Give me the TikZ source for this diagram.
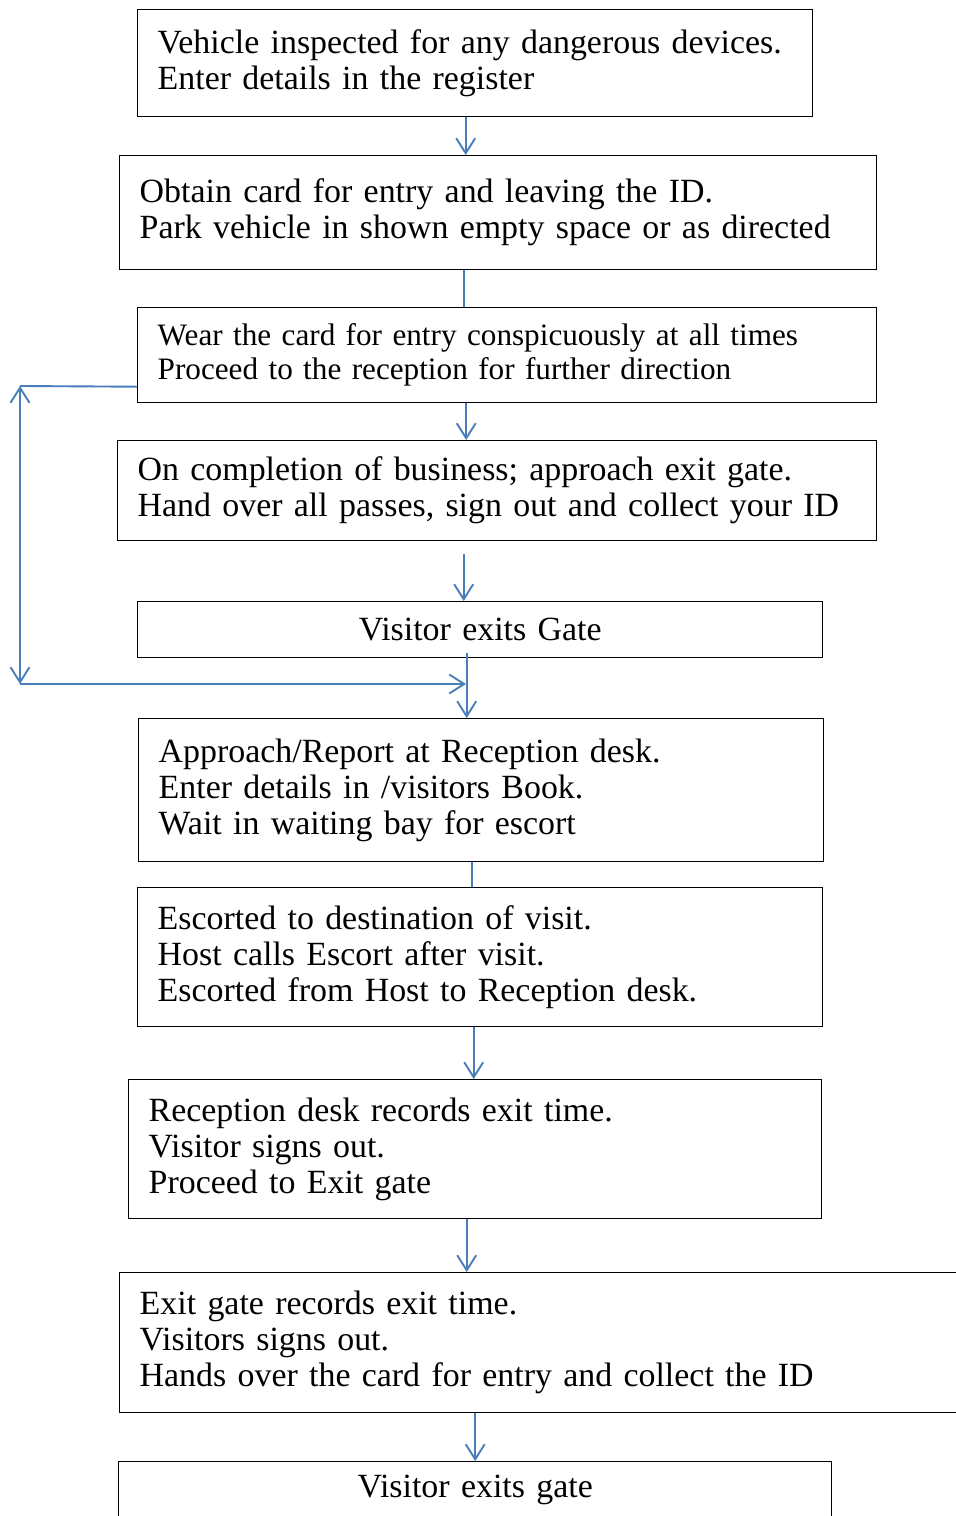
\documentclass[tikz,border=0pt]{standalone}
\usepackage{fontspec}
\setmainfont{Liberation Serif}
\definecolor{FlowBlue}{RGB}{74, 126, 187}
\usetikzlibrary{arrows.meta, positioning}

\begin{document}
\begin{tikzpicture}[x=0.5pt, y=-0.5pt,
    stepbox/.style={draw, line width=0.7pt, anchor=north west, align=left, inner xsep=10pt, inner ysep=0pt, font=\fontsize{16.95}{18}\selectfont},
    flow/.style={draw=FlowBlue, line width=0.95pt},
    flowarrow/.style={flow, -{Straight Barb[length=7.5pt, width=9.5pt]}}]
  \useasboundingbox (0,0) rectangle (955,1516);

  % the boxes, top to bottom
  \node[stepbox, text width=317.5pt, minimum height=53.5pt] (inspect) at (137,9)
    {Vehicle inspected for any dangerous devices.\\ Enter details in the register};
  \node[stepbox, text width=358.5pt, minimum height=57pt] (card) at (119,155)
    {Obtain card for entry and leaving the ID.\\ Park vehicle in shown empty space or as directed};
  \node[stepbox, text width=349.5pt, minimum height=47.5pt, font=\fontsize{15.6}{17}\selectfont] (wear) at (137,307)
    {Wear the card for entry conspicuously at all times\\ Proceed to the reception for further direction};
  \node[stepbox, text width=359.5pt, minimum height=50pt] (business) at (117,440)
    {On completion of business; approach exit gate.\\ Hand over all passes, sign out and collect your ID};
  \node[stepbox, align=center, text width=322.5pt, minimum height=28pt] (exitone) at (137,601)
    {Visitor exits Gate};
  \node[stepbox, text width=322.5pt, minimum height=71.5pt] (reception) at (138,718)
    {Approach/Report at Reception desk.\\ Enter details in /visitors Book.\\ Wait in waiting bay for escort};
  \node[stepbox, text width=322.5pt, minimum height=69.5pt] (escort) at (137,887)
    {Escorted to destination of visit.\\ Host calls Escort after visit.\\ Escorted from Host to Reception desk.};
  \node[stepbox, text width=326.5pt, minimum height=69.5pt] (records) at (128,1079)
    {Reception desk records exit time.\\ Visitor signs out.\\ Proceed to Exit gate};
  \node[stepbox, text width=430pt, minimum height=70pt] (gaterec) at (119,1272)
    {Exit gate records exit time.\\ Visitors signs out.\\ Hands over the card for entry and collect the ID};
  \node[stepbox, align=center, text width=336.5pt, minimum height=28.5pt] (exittwo) at (118,1461)
    {Visitor exits gate};

  % connectors
  \draw[flowarrow] ([xshift=-4.75pt]inspect.south) -- ([xshift=-4.75pt]inspect.south |- card.north);
  \draw[flow] ([xshift=-17.25pt]card.south) -- ([xshift=-17.25pt]card.south |- wear.north);
  \draw[flowarrow] ([xshift=-20.5pt]wear.south) -- ([xshift=-20.5pt]wear.south |- business.north);
  \draw[flowarrow] ([xshift=-16.75pt, yshift=-6.5pt]business.south) -- ([xshift=-16.75pt]business.south |- exitone.north);
  \draw[flowarrow] ([xshift=-6.75pt, yshift=2.5pt]exitone.south) -- ([xshift=-6.75pt]exitone.south |- reception.north);
  \draw[flow] ([xshift=-4.75pt]reception.south) -- ([xshift=-4.75pt]reception.south |- escort.north);
  \draw[flowarrow] ([xshift=-3.25pt]escort.south) -- ([xshift=-3.25pt]escort.south |- records.north);
  \draw[flowarrow] ([xshift=-4.25pt]records.south) -- ([xshift=-4.25pt]records.south |- gaterec.north);
  \draw[flowarrow] (exittwo.north |- gaterec.south) -- (exittwo.north);

  % loop back on the left
  \coordinate (looptop) at (20,386);
  \coordinate (loopbot) at (20,684);
  \coordinate (loopend) at (466,684);
  \draw[flow] ([yshift=-15.75pt]wear.west) -- (looptop);
  \draw[flow, {Straight Barb[length=7.5pt, width=9.5pt]}-{Straight Barb[length=7.5pt, width=9.5pt]}] (looptop) -- (loopbot);
  \draw[flowarrow] (loopbot) -- (loopend);
\end{tikzpicture}
\end{document}
